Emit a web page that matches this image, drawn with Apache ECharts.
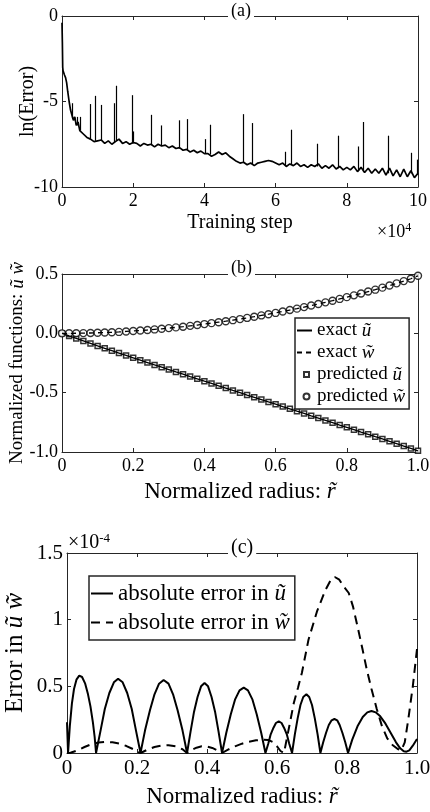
<!DOCTYPE html>
<html>
<head>
<meta charset="utf-8">
<script src="https://cdn.jsdelivr.net/npm/echarts@6/dist/echarts.min.js"></script>
<style>
  html, body { margin: 0; padding: 0; background: #fff; }
  #chart { width: 430px; height: 812px; }
</style>
</head>
<body>
<div id="chart"></div>
<script>
// (a) 训练误差，横轴单位 10^4 步
const stepA = [0, 0.01, 0.02, 0.03, 0.05, 0.07, 0.1, 0.13, 0.16, 0.2, 0.24, 0.28, 0.32, 0.36, 0.4, 0.45, 0.5, 0.55, 0.6, 0.7, 0.8, 0.9, 1.0,
  1.1, 1.2, 1.3, 1.4, 1.5, 1.6, 1.7, 1.8, 1.9, 2.0,
  2.1, 2.2, 2.3, 2.4, 2.5, 2.6, 2.7, 2.8, 2.9, 3.0,
  3.1, 3.2, 3.3, 3.4, 3.5, 3.6, 3.7, 3.8, 3.9, 4.0,
  4.1, 4.2, 4.3, 4.4, 4.5, 4.6, 4.7, 4.8, 4.9, 5.0,
  5.1, 5.2, 5.3, 5.4, 5.5, 5.6, 5.7, 5.8, 5.9, 6.0,
  6.1, 6.2, 6.3, 6.4, 6.5, 6.6, 6.7, 6.8, 6.9, 7.0,
  7.1, 7.2, 7.3, 7.4, 7.5, 7.6, 7.7, 7.8, 7.9, 8.0,
  8.1, 8.2, 8.3, 8.4, 8.5, 8.6, 8.7, 8.8, 8.9, 9.0,
  9.1, 9.2, 9.3, 9.4, 9.5, 9.6, 9.7, 9.8, 9.9, 10.0];
const lnErr = [-0.4, -1.5, -3.0, -3.2, -3.3, -3.45, -3.6, -3.9, -4.4, -5.0, -5.5, -5.8, -6.1, -5.9, -6.4, -6.2, -6.7, -6.6, -6.9, -7.1, -7.2, -7.35, -7.3,
  -7.25, -7.45, -7.3, -7.5, -7.35, -7.2, -7.45, -7.35, -7.5, -7.4,
  -7.45, -7.6, -7.45, -7.55, -7.5, -7.65, -7.5, -7.6, -7.55, -7.7,
  -7.6, -7.75, -7.7, -7.85, -7.8, -7.95, -7.85, -8.0, -7.9, -8.05,
  -8.05, -8.2, -8.1, -7.95, -8.1, -8.0, -8.2, -8.35, -8.5, -8.6,
  -8.55, -8.7, -8.6, -8.75, -8.6, -8.55, -8.5, -8.45, -8.5, -8.6,
  -8.7, -8.6, -8.8, -8.65, -8.75, -8.6, -8.8, -8.7, -8.85, -8.7,
  -8.8, -8.65, -8.9, -8.75, -8.9, -8.7, -8.95, -8.8, -9.0, -8.85,
  -9.0, -8.8, -9.1, -8.85, -9.15, -8.9, -9.2, -8.95, -9.2, -8.9,
  -9.3, -8.9, -9.35, -9.0, -9.4, -8.95, -9.4, -9.05, -9.45, -9.2];
// 尖峰
const spikeX = [0.29, 0.42, 0.5, 0.78, 0.92, 1.1, 1.47, 1.53, 1.97, 2.01, 2.52, 2.78, 3.3, 3.51, 4.01, 4.17, 5.1, 5.34, 6.27, 6.45, 7.18, 7.77, 8.33, 8.47, 9.16, 9.81, 9.97];
const spikeBase = [-6.0, -6.4, -6.7, -7.2, -7.3, -7.3, -7.4, -7.3, -7.45, -7.45, -7.55, -7.6, -7.75, -7.85, -8.05, -8.1, -8.6, -8.7, -8.75, -8.7, -8.8, -8.9, -9.05, -9.1, -9.2, -9.2, -9.3];
const spikeTop = [-5.1, -5.9, -5.9, -5.15, -4.67, -5.2, -5.1, -4.08, -4.63, -6.75, -5.78, -6.4, -6.1, -6.03, -7.2, -6.36, -5.74, -6.26, -7.94, -6.65, -7.47, -7.0, -7.63, -6.2, -7.0, -8.0, -8.4];

// (b) 归一化函数
const radius = [0, 0.02, 0.04, 0.06, 0.08, 0.1, 0.12, 0.14, 0.16, 0.18, 0.2, 0.22, 0.24, 0.26, 0.28, 0.3, 0.32, 0.34, 0.36, 0.38, 0.4,
  0.42, 0.44, 0.46, 0.48, 0.5, 0.52, 0.54, 0.56, 0.58, 0.6, 0.62, 0.64, 0.66, 0.68, 0.7, 0.72, 0.74, 0.76, 0.78, 0.8,
  0.82, 0.84, 0.86, 0.88, 0.9, 0.92, 0.94, 0.96, 0.98, 1.0];
const uTilde = [0, -0.022, -0.043, -0.064, -0.085, -0.106, -0.126, -0.146, -0.166, -0.186, -0.206, -0.226, -0.246, -0.266, -0.285, -0.305, -0.325, -0.344, -0.364, -0.383, -0.403,
  -0.422, -0.442, -0.461, -0.481, -0.5, -0.52, -0.539, -0.558, -0.578, -0.597, -0.617, -0.636, -0.656, -0.675, -0.695, -0.714, -0.734, -0.753, -0.773, -0.792,
  -0.812, -0.832, -0.851, -0.871, -0.89, -0.91, -0.93, -0.95, -0.97, -0.99];
const wTilde = [0, 0.0002, 0.0008, 0.002, 0.003, 0.005, 0.007, 0.009, 0.012, 0.016, 0.02, 0.024, 0.028, 0.033, 0.038, 0.044, 0.05, 0.056, 0.063, 0.07, 0.078,
  0.086, 0.094, 0.102, 0.111, 0.12, 0.13, 0.14, 0.151, 0.161, 0.172, 0.184, 0.196, 0.208, 0.221, 0.234, 0.247, 0.261, 0.275, 0.29, 0.305,
  0.32, 0.336, 0.352, 0.368, 0.385, 0.403, 0.421, 0.44, 0.46, 0.485];

// (c) 绝对误差，单位 10^-4
const errRu = [0, 0.003, 0.008, 0.014, 0.02, 0.027, 0.035, 0.043, 0.052, 0.06, 0.067, 0.074, 0.079, 0.083,
  0.096, 0.108, 0.121, 0.134, 0.146, 0.159, 0.172, 0.185, 0.197, 0.21,
  0.223, 0.237, 0.25, 0.263, 0.276, 0.29, 0.303, 0.316, 0.33, 0.343,
  0.353, 0.363, 0.373, 0.383, 0.393, 0.403, 0.413, 0.423, 0.433, 0.443,
  0.455, 0.468, 0.48, 0.493, 0.505, 0.517, 0.53, 0.542, 0.555, 0.567,
  0.575, 0.582, 0.59, 0.597, 0.605, 0.613, 0.62, 0.628, 0.635, 0.643,
  0.651, 0.659, 0.667, 0.675, 0.684, 0.692, 0.7, 0.708, 0.716, 0.724,
  0.732, 0.74, 0.748, 0.756, 0.764, 0.772, 0.779, 0.787, 0.795, 0.803,
  0.815, 0.83, 0.845, 0.858, 0.87, 0.882, 0.895, 0.91, 0.925, 0.94, 0.952, 0.962, 0.97, 0.978, 0.988, 1.0];
const errU = [0.23, 0, 0.2, 0.37, 0.48, 0.55, 0.58, 0.57, 0.52, 0.44, 0.35, 0.23, 0.12, 0,
  0.17, 0.33, 0.45, 0.53, 0.557, 0.53, 0.45, 0.33, 0.17, 0,
  0.17, 0.32, 0.44, 0.52, 0.547, 0.52, 0.44, 0.32, 0.17, 0,
  0.16, 0.31, 0.42, 0.5, 0.525, 0.5, 0.42, 0.31, 0.16, 0,
  0.15, 0.29, 0.4, 0.47, 0.49, 0.47, 0.4, 0.29, 0.15, 0,
  0.07, 0.14, 0.19, 0.225, 0.237, 0.225, 0.19, 0.14, 0.07, 0,
  0.14, 0.26, 0.36, 0.42, 0.44, 0.42, 0.36, 0.26, 0.14, 0,
  0.08, 0.15, 0.21, 0.245, 0.255, 0.245, 0.21, 0.15, 0.08, 0,
  0.1, 0.2, 0.27, 0.305, 0.315, 0.305, 0.275, 0.22, 0.15, 0.08, 0.035, 0.013, 0.01, 0.02, 0.055, 0.105];
const errRw = [0, 0.01, 0.03, 0.05, 0.07, 0.09, 0.11, 0.13, 0.15, 0.17, 0.19, 0.21, 0.23, 0.25, 0.27, 0.29, 0.31, 0.33, 0.343,
  0.355, 0.37, 0.385, 0.4, 0.415, 0.43, 0.443, 0.46, 0.48, 0.5, 0.52, 0.54, 0.56, 0.575, 0.59, 0.6, 0.61, 0.62,
  0.635, 0.648, 0.66, 0.671, 0.69, 0.714, 0.738, 0.752, 0.765, 0.778, 0.79, 0.805, 0.817, 0.83, 0.845, 0.857,
  0.87, 0.885, 0.9, 0.915, 0.93, 0.945, 0.955, 0.965, 0.975, 0.988, 1.0];
const errW = [0, 0.002, 0.02, 0.045, 0.066, 0.079, 0.083, 0.08, 0.07, 0.052, 0.028, 0, 0.025, 0.045, 0.056, 0.058, 0.05, 0.028, 0,
  0.022, 0.04, 0.05, 0.048, 0.038, 0.02, 0, 0.025, 0.05, 0.07, 0.085, 0.095, 0.1, 0.098, 0.08, 0.05, 0.015, 0,
  0.2, 0.375, 0.49, 0.6, 0.85, 1.06, 1.22, 1.29, 1.32, 1.3, 1.25, 1.2, 1.1, 0.95, 0.77, 0.62,
  0.48, 0.33, 0.2, 0.11, 0.06, 0.03, 0.02, 0.08, 0.25, 0.5, 0.78];

const FONT = 'Liberation Serif';
const INK = '#262626';

function pairs(xs, ys) {
  return xs.map((x, i) => [x, ys[i]]);
}

function radiusLabel(v) {
  return v === 0 ? '0' : v.toFixed(1);
}

function nameStyle(size) {
  return { color: '#000', fontFamily: FONT, fontSize: size,
    rich: { n: { fontFamily: FONT, fontSize: size }, i: { fontStyle: 'italic', fontFamily: FONT, fontSize: size } } };
}

// 坐标轴，四边都画，刻度朝内
function makeX(gi, min, max, interval, size, fmt, name, gap, nameSize, top) {
  return {
    type: 'value', gridIndex: gi, min: min, max: max, interval: interval,
    position: top ? 'top' : 'bottom',
    splitLine: { show: false },
    axisLine: { show: true, onZero: false, lineStyle: { color: INK, width: 1 } },
    axisTick: { show: true, inside: true, length: 4, lineStyle: { color: INK } },
    axisLabel: { show: !top, color: '#000', fontFamily: FONT, fontSize: size, margin: 5, formatter: fmt, showMinLabel: true, showMaxLabel: true },
    name: top ? '' : name,
    nameLocation: 'middle', nameGap: gap, nameMoveOverlap: false,
    nameTextStyle: nameStyle(nameSize)
  };
}

function makeY(gi, min, max, interval, size, fmt, name, gap, nameSize, right) {
  return {
    type: 'value', gridIndex: gi, min: min, max: max, interval: interval,
    position: right ? 'right' : 'left',
    splitLine: { show: false },
    axisLine: { show: true, onZero: false, lineStyle: { color: INK, width: 1 } },
    axisTick: { show: true, inside: true, length: 4, lineStyle: { color: INK } },
    axisLabel: { show: !right, color: '#000', fontFamily: FONT, fontSize: size, margin: 4, formatter: fmt, showMinLabel: true, showMaxLabel: true },
    name: right ? '' : name,
    nameLocation: 'middle', nameGap: gap, nameRotate: 90, nameMoveOverlap: false,
    nameTextStyle: nameStyle(nameSize)
  };
}

const legendNames = {
  'exact u': '{n|exact }{i|ũ}',
  'exact w': '{n|exact }{i|w̃}',
  'predicted u': '{n|predicted }{i|ũ}',
  'predicted w': '{n|predicted }{i|w̃}',
  'abs u': '{n|absolute error in }{i|ũ}',
  'abs w': '{n|absolute error in }{i|w̃}'
};

// 图例里的小方块和小圆圈
const squareIcon = 'path://M0,0M15,8M7,1.5L12,1.5L12,6.5L7,6.5Z';
const circleIcon = 'path://M0,0M15,8M12.5,4A3,3,0,1,1,6.5,4A3,3,0,1,1,12.5,4Z';

let myChart = echarts.init(document.getElementById('chart'));
myChart.setOption({
  animation: false,
  backgroundColor: '#fff',
  grid: [
    { left: 62, top: 16, width: 356, height: 171, outerBoundsMode: 'none' },
    { left: 62, top: 274, width: 356, height: 178, outerBoundsMode: 'none' },
    { left: 67, top: 553, width: 350, height: 200, outerBoundsMode: 'none' }
  ],
  xAxis: [
    makeX(0, 0, 10, 2, 18, v => String(v), 'Training step', 26, 20, false),
    makeX(0, 0, 10, 2, 18, null, '', 0, 18, true),
    makeX(1, 0, 1, 0.2, 18, radiusLabel, '{n|Normalized radius: }{i|r̃}', 28, 23, false),
    makeX(1, 0, 1, 0.2, 18, null, '', 0, 18, true),
    makeX(2, 0, 1, 0.2, 21, radiusLabel, '{n|Normalized radius: }{i|r̃}', 32, 23, false),
    makeX(2, 0, 1, 0.2, 21, null, '', 0, 21, true)
  ],
  yAxis: [
    makeY(0, -10, 0, 5, 18, v => String(v), 'ln(Error)', 24, 20, false),
    makeY(0, -10, 0, 5, 18, null, '', 0, 18, true),
    makeY(1, -1, 0.5, 0.5, 18, v => v.toFixed(1), '{n|Normalized functions: }{i|ũ w̃}', 35, 19, false),
    makeY(1, -1, 0.5, 0.5, 18, null, '', 0, 18, true),
    makeY(2, 0, 1.5, 0.5, 21, v => String(v), '{n|Error in }{i|ũ w̃}', 39, 25, false),
    makeY(2, 0, 1.5, 0.5, 21, null, '', 0, 21, true)
  ],
  legend: [
    {
      data: [
        { name: 'exact u', itemStyle: { opacity: 0 } },
        { name: 'exact w', itemStyle: { opacity: 0 } },
        { name: 'predicted u', icon: squareIcon },
        { name: 'predicted w', icon: circleIcon }
      ],
      orient: 'vertical', left: 295, top: 318,
      itemWidth: 15, itemHeight: 8, itemGap: 3,
      padding: [3, 4, 3, 1],
      borderColor: INK, borderWidth: 1.5, backgroundColor: '#fff',
      formatter: name => legendNames[name],
      textStyle: nameStyle(19)
    },
    {
      data: [
        { name: 'abs u', itemStyle: { opacity: 0 } },
        { name: 'abs w', itemStyle: { opacity: 0 } }
      ],
      orient: 'vertical', left: 89, top: 576,
      itemWidth: 22, itemHeight: 10, itemGap: 6,
      padding: [6, 5, 6, 1],
      borderColor: INK, borderWidth: 1.5, backgroundColor: '#fff',
      formatter: name => legendNames[name],
      textStyle: nameStyle(23)
    }
  ],
  graphic: [
    { type: 'text', left: 228, top: 2, z: 100, style: { text: '(a)', font: '18px "Liberation Serif"', fill: '#000', backgroundColor: '#fff', padding: [0, 3] } },
    { type: 'text', left: 228, top: 259, z: 100, style: { text: '(b)', font: '18px "Liberation Serif"', fill: '#000', backgroundColor: '#fff', padding: [0, 3] } },
    { type: 'text', left: 228, top: 538, z: 100, style: { text: '(c)', font: '20px "Liberation Serif"', fill: '#000', backgroundColor: '#fff', padding: [0, 3] } },
    { type: 'text', left: 377, top: 222, z: 100, style: {
      text: '×10{s|4}', font: '18px "Liberation Serif"', fill: '#000',
      rich: { s: { fontSize: 12, fontFamily: FONT, verticalAlign: 'top', padding: [0, 0, 8, 0] } } } },
    { type: 'text', left: 68, top: 532, z: 100, style: {
      text: '×10{s|-4}', font: '20px "Liberation Serif"', fill: '#000',
      rich: { s: { fontSize: 13, fontFamily: FONT, verticalAlign: 'top', padding: [0, 0, 9, 0] } } } }
  ],
  series: [
    {
      name: 'training', type: 'line', xAxisIndex: 0, yAxisIndex: 0,
      data: pairs(stepA, lnErr), symbol: 'none',
      lineStyle: { color: '#000', width: 1.7 },
      markLine: {
        silent: true, symbol: ['none', 'none'], label: { show: false },
        lineStyle: { color: '#000', width: 1.2, type: 'solid' },
        emphasis: { disabled: true },
        data: spikeX.map((x, i) => [{ coord: [x, spikeBase[i]] }, { coord: [x, spikeTop[i]] }])
      }
    },
    {
      name: 'exact u', type: 'line', xAxisIndex: 2, yAxisIndex: 2,
      data: pairs(radius, uTilde), symbol: 'none',
      lineStyle: { color: '#000', width: 1.3 }, itemStyle: { color: '#000' }
    },
    {
      name: 'exact w', type: 'line', xAxisIndex: 2, yAxisIndex: 2,
      data: pairs(radius, wTilde), symbol: 'none',
      lineStyle: { color: '#000', width: 1.3, type: [5, 4] }, itemStyle: { color: '#000' }
    },
    {
      name: 'predicted u', type: 'scatter', xAxisIndex: 2, yAxisIndex: 2,
      data: pairs(radius, uTilde), symbol: 'rect', symbolSize: 5,
      itemStyle: { color: '#fff', borderColor: '#000', borderWidth: 1.5 }
    },
    {
      name: 'predicted w', type: 'scatter', xAxisIndex: 2, yAxisIndex: 2,
      data: pairs(radius, wTilde), symbol: 'circle', symbolSize: 7,
      itemStyle: { color: '#fff', borderColor: '#000', borderWidth: 1.4 }
    },
    {
      name: 'abs u', type: 'line', xAxisIndex: 4, yAxisIndex: 4,
      data: pairs(errRu, errU), symbol: 'none',
      lineStyle: { color: '#000', width: 2 }, itemStyle: { color: '#000' }
    },
    {
      name: 'abs w', type: 'line', xAxisIndex: 4, yAxisIndex: 4,
      data: pairs(errRw, errW), symbol: 'none',
      lineStyle: { color: '#000', width: 2, type: [9, 6] }, itemStyle: { color: '#000' }
    }
  ]
});
</script>
</body>
</html>
